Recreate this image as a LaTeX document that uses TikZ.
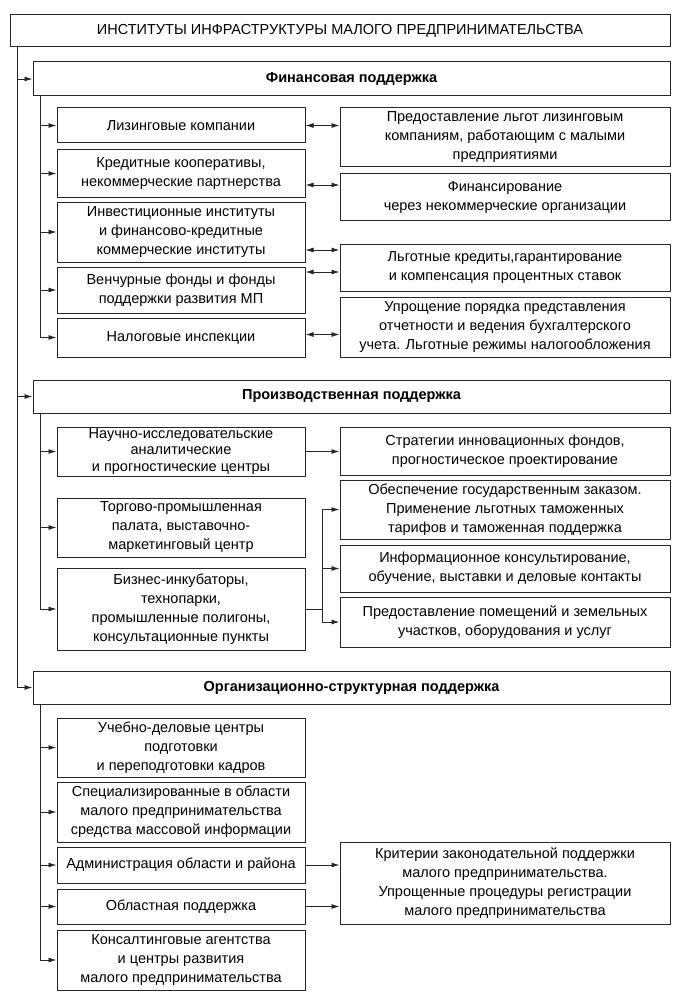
\documentclass[tikz,border=0pt]{standalone}
\usepackage{fontspec}
\setmainfont{Liberation Sans}
\usetikzlibrary{arrows.meta}
\begin{document}
\begin{tikzpicture}[x=1pt,y=-1pt,
  box/.style={draw=black!85, line width=1pt, align=center, inner sep=0pt, text=black,
    font=\fontsize{14.5}{19}\selectfont},
  lbox/.style={box, minimum width=248pt},
  rbox/.style={box, minimum width=330pt},
  sec/.style={box, minimum width=637pt, minimum height=34pt, font=\fontsize{14.5}{19}\selectfont\bfseries},
  arr/.style={-{Latex[length=8pt,width=5pt]}, line width=0.9pt, draw=black!85},
  darr/.style={{Latex[length=8pt,width=5pt]}-{Latex[length=8pt,width=5pt]}, line width=0.9pt, draw=black!85},
  ln/.style={line width=0.9pt, draw=black!85}]
\useasboundingbox[fill=white] (0,0) rectangle (679,995);

\node[box, minimum width=660pt, minimum height=32pt] (title) at (340,31) {ИНСТИТУТЫ ИНФРАСТРУКТУРЫ МАЛОГО ПРЕДПРИНИМАТЕЛЬСТВА};

% Financial
\node[sec] (fin) at (351.5,79) {Финансовая поддержка};
\node[lbox, minimum height=35pt] (l1) at (181,125.5) {Лизинговые компании};
\node[lbox, minimum height=47pt] (l2) at (181,173.5) {Кредитные кооперативы,\\некоммерческие партнерства};
\node[lbox, minimum height=60pt] (l3) at (181,232) {Инвестиционные институты\\и финансово-кредитные\\коммерческие институты};
\node[lbox, minimum height=46pt] (l4) at (181,290) {Венчурные фонды и фонды\\поддержки развития МП};
\node[lbox, minimum height=39pt] (l5) at (181,337.5) {Налоговые инспекции};
\node[rbox, minimum height=59pt] (r1) at (505,137.5) {Предоставление льгот лизинговым\\компаниям, работающим с малыми\\предприятиями};
\node[rbox, minimum height=46pt] (r2) at (505,197) {Финансирование\\через некоммерческие организации};
\node[rbox, minimum height=47pt] (r3) at (505,267.5) {Льготные кредиты,гарантирование\\и компенсация процентных ставок};
\node[rbox, minimum height=60pt] (r4) at (505,327) {Упрощение порядка представления\\отчетности и ведения бухгалтерского\\учета. Льготные режимы налогообложения};

% Production
\node[sec, minimum height=33pt] (prod) at (351.5,396.5) {Производственная поддержка};
\node[lbox, minimum height=49pt, font=\fontsize{14.5}{16.5}\selectfont] (l6) at (181,451.5) {Научно-исследовательские\\аналитические\\и прогностические центры};
\node[lbox, minimum height=59pt] (l7) at (181,527.5) {Торгово-промышленная\\палата, выставочно-\\маркетинговый центр};
\node[lbox, minimum height=82pt] (l8) at (181,609) {Бизнес-инкубаторы,\\технопарки,\\промышленные полигоны,\\консультационные пункты};
\node[rbox, minimum height=48pt] (r5) at (505,451) {Стратегии инновационных фондов,\\прогностическое проектирование};
\node[rbox, minimum height=59pt] (r6) at (505,509.5) {Обеспечение государственным заказом.\\Применение льготных таможенных\\тарифов и таможенная поддержка};
\node[rbox, minimum height=47pt] (r7) at (505,568.5) {Информационное консультирование,\\обучение, выставки и деловые контакты};
\node[rbox, minimum height=50pt] (r8) at (505,622) {Предоставление помещений и земельных\\участков, оборудования и услуг};

% Organisational
\node[sec, minimum height=33pt] (org) at (351.5,687.5) {Организационно-структурная поддержка};
\node[lbox, minimum height=59pt] (l9) at (181,747.5) {Учебно-деловые центры\\подготовки\\и переподготовки кадров};
\node[lbox, minimum height=60pt] (l10) at (181,812) {Специализированные в области\\малого предпринимательства\\средства массовой информации};
\node[lbox, minimum height=36pt] (l11) at (181,865) {Администрация области и района};
\node[lbox, minimum height=35pt] (l12) at (181,906.5) {Областная поддержка};
\node[lbox, minimum height=60pt] (l13) at (181,960) {Консалтинговые агентства\\и центры развития\\малого предпринимательства};
\node[rbox, minimum height=82pt] (r9) at (505,883) {Критерии законодательной поддержки\\малого предпринимательства.\\Упрощенные процедуры регистрации\\малого предпринимательства};

% trunk
\coordinate (t0) at (17,47);
\draw[arr] (t0) |- (fin);
\draw[arr] (t0) |- (prod);
\draw[arr] (t0) |- (org);

% sub-trunks
\coordinate (fa) at (40,96);
\foreach \n in {l1,l2,l3,l4,l5} \draw[arr] (fa) |- (\n);
\coordinate (pa) at (40,413);
\foreach \n in {l6,l7,l8} \draw[arr] (pa) |- (\n);
\coordinate (oa) at (40,704);
\foreach \n in {l9,l10,l11,l12,l13} \draw[arr] (oa) |- (\n);

% financial links
\draw[darr] (l1.east) -- (l1.east -| r1.west);
\draw[darr] ([yshift=-11.5pt]l2.east) -- ([yshift=-11.5pt]l2.east -| r2.west);
\draw[darr] ([yshift=-18pt]l3.east) -- ([yshift=-18pt]l3.east -| r3.west);
\draw[darr] ([yshift=18pt]l4.east) -- ([yshift=18pt]l4.east -| r3.west);
\draw[darr] ([yshift=3pt]l5.east) -- ([yshift=3pt]l5.east -| r4.west);

% production links
\draw[arr] (l6.east) -- (l6.east -| r5.west);
\coordinate (bj) at (322,609);
\draw[ln] (l8.east) -- (bj);
\draw[arr] (bj) |- (r6);
\draw[arr] (bj) |- (r7);
\draw[arr] (bj) |- (r8);

% organisational links
\draw[arr] (l11.east) -- (l11.east -| r9.west);
\draw[arr] (l12.east) -- (l12.east -| r9.west);
\end{tikzpicture}
\end{document}
